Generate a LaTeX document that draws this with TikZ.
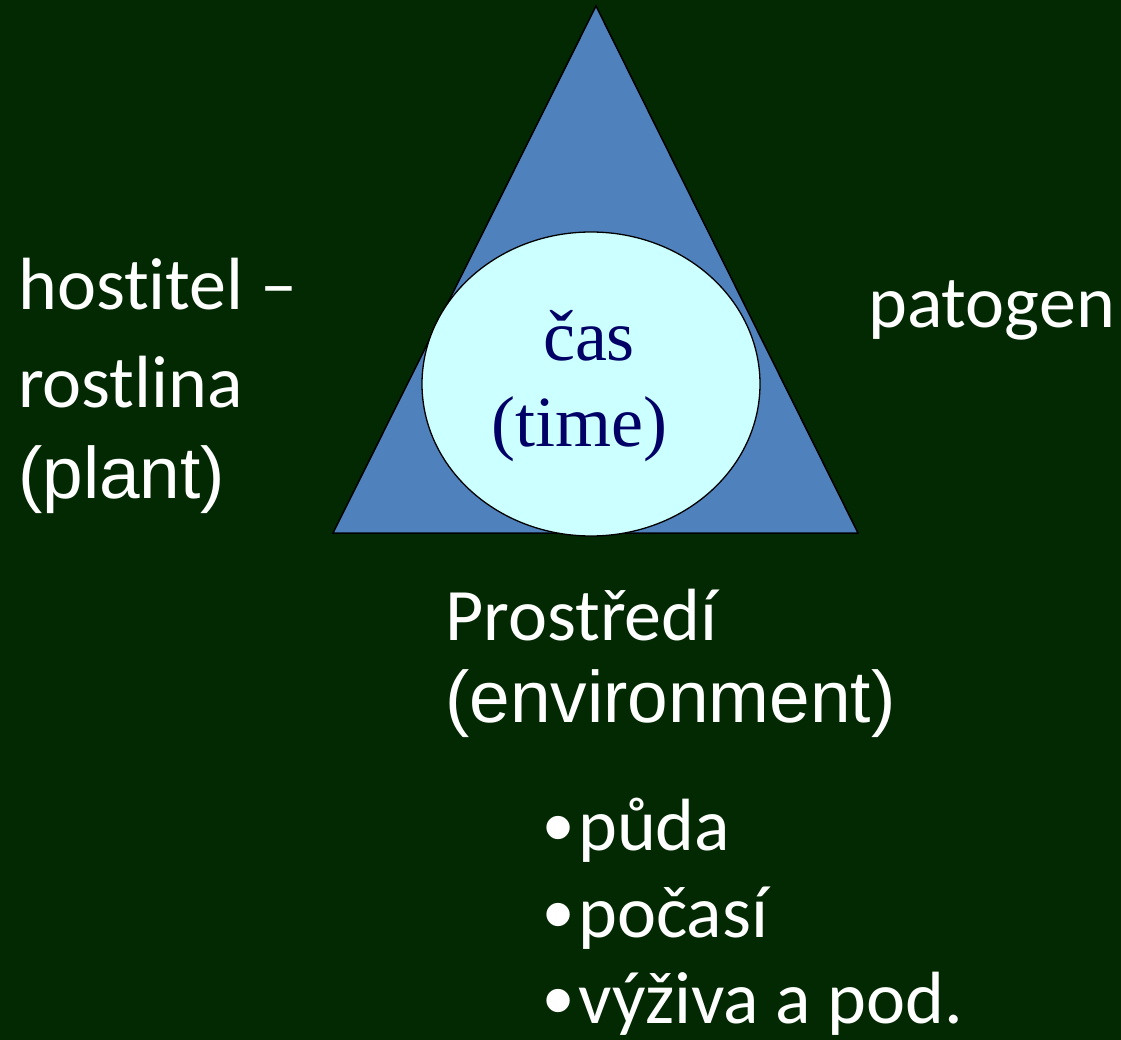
\documentclass[tikz,border=0pt]{standalone}
\usepackage{fontspec}
\usetikzlibrary{shapes.geometric}
\newfontfamily\calfont[Ligatures=NoCommon]{Carlito}
\newfontfamily\arifont{Liberation Sans}
\newfontfamily\timfont{Liberation Serif}
\definecolor{bg}{RGB}{3,41,3}
\definecolor{triblue}{RGB}{79,129,189}
\definecolor{elfill}{RGB}{204,255,255}
\definecolor{navy}{RGB}{0,0,102}
\newcommand{\mybul}{\makebox[38pt][l]{\hspace{3pt}\raisebox{-6pt}{\fontsize{86}{86}\selectfont\arifont •}}}
\begin{document}
\begin{tikzpicture}[x=1pt,y=-1pt,
  lbl/.style={anchor=base west, inner sep=0pt, text=white},
  cal/.style={lbl, font=\fontsize{74}{88}\selectfont\calfont},
  ari/.style={lbl, font=\fontsize{73}{88}\selectfont\arifont},
  inlbl/.style={anchor=base, inner sep=0pt, text=navy, font=\fontsize{72}{86}\selectfont\timfont}]
\fill[bg] (0,0) rectangle (1121,1040);
\useasboundingbox (0,0) rectangle (1121,1040);
\draw[black, line width=1.5pt, fill=triblue, line join=miter] (596,6) -- (858,533) -- (333,533) -- cycle;
\node[draw=black, line width=1.3pt, fill=elfill, ellipse, minimum width=338pt, minimum height=304pt, inner sep=0pt] (el) at (591,384) {};
\node[inlbl] (cas) at (589,360) {čas};
\node[inlbl] (time) at (579,446) {(time)};
\node[cal] (host) at (18,310) {hostitel –};
\node[cal] (rost) at (18,407) {rostlina};
\node[ari] (plant) at (18,498) {(plant)};
\node[cal] (pat) at (868,328) {patogen};
\node[cal] (pros) at (445,640) {Prostředí};
\node[ari] (env) at (445,722) {(environment)};
\node[cal] (b1) at (540,850) {\mybul půda};
\node[cal] (b2) at (540,937) {\mybul počasí};
\node[cal] (b3) at (540,1023) {\mybul výživa a pod.};
\end{tikzpicture}
\end{document}
